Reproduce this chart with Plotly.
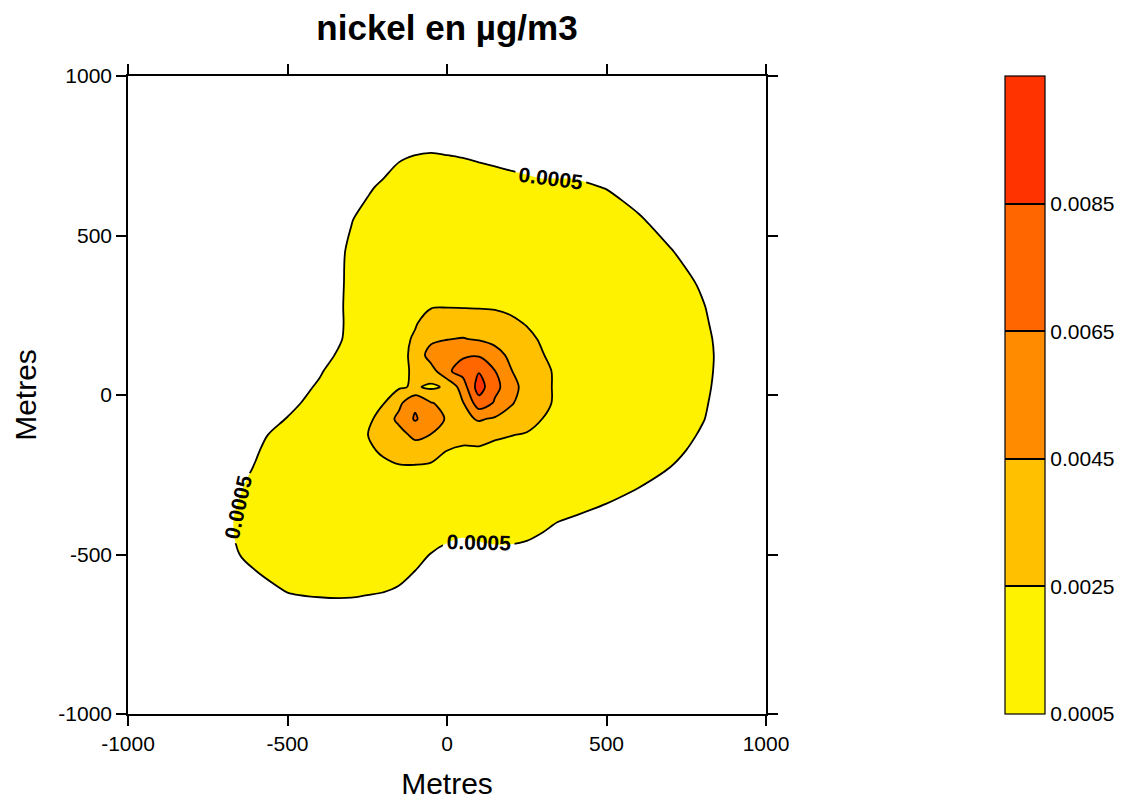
import plotly.graph_objects as go

FONT = "Liberation Sans, Arial, sans-serif"

# Receptor grid in metres (50 m spacing around the source, 100 m further out)
x_m = [-800, -700, -600, -500, -400, -300, -250, -200, -150, -100, -50, 0, 50,
       100, 150, 200, 250, 300, 350, 400, 500, 600, 700, 800, 900]
y_m = [-700, -600, -500, -400, -300, -225, -175, -125, -75, -25, 25, 75, 125,
       175, 225, 275, 350, 450, 550, 650, 750, 850]

# Modelled nickel concentration in units of 1e-4 ug/m3, one row per y_m value
conc_e4 = [
    [0, 0, 0, 0.8, 1.9, 1.9, 1.5, 1.0, 0, 0, 0, 0, 0, 0, 0, 0, 0, 0, 0, 0, 0, 0, 0, 0, 0],
    [0, 0, 2.8, 6.0, 6.6, 6.7, 6.3, 5.9, 4.9, 2.4, 0, 0, 0, 0, 0, 0, 0, 0, 0, 0, 0, 0, 0, 0, 0],
    [0, 2.8, 7.2, 9.6, 10.7, 11.0, 11.0, 10.9, 9.9, 7.7, 4.7, 2.8, 2.0, 2.7, 3.2, 3.2, 2.7, 1.4, 0, 0, 0, 0, 0, 0, 0],
    [0, 3.7, 8.0, 11.6, 13.8, 15.1, 15.6, 15.7, 15.3, 13.8, 11.5, 8.9, 7.7, 8.5, 8.9, 8.8, 8.1, 6.6, 4.8, 3.8, 1.9, 0, 0, 0, 0],
    [0, 2.1, 7.2, 11.4, 15.6, 18.9, 19.6, 20.5, 20.5, 19.8, 18.3, 16.8, 14.6, 15.1, 14.9, 14.7, 13.9, 12.3, 10.7, 9.5, 7.1, 4.6, 1.3, 0, 0],
    [0, 0.4, 5.4, 10.0, 14.5, 18.0, 20.0, 20.6, 23.6, 23.6, 22.4, 20.4, 18.0, 18.0, 17.5, 17.5, 18.5, 16.8, 15.1, 13.7, 10.7, 8.1, 5.05, 0, 0],
    [0, 0, 4.3, 9.8, 15.2, 18.0, 21.4, 27.7, 32.7, 34.7, 32.5, 24.8, 22.0, 22.0, 20.0, 19.5, 19.5, 19.0, 17.9, 16.1, 12.9, 10.1, 7.1, 2.75, 0],
    [0, 0, 2.75, 8.6, 15.2, 20.0, 24.5, 35.3, 38.0, 50.0, 44.5, 38.4, 31.1, 32.5, 27.7, 25.5, 23.6, 20.0, 19.0, 18.7, 14.8, 11.9, 8.4, 4.25, 0],
    [0, 0, 0.25, 5.4, 12.6, 18.0, 20.0, 33.4, 50.0, 67.0, 54.0, 43.2, 40.0, 47.0, 42.6, 37.7, 32.1, 24.8, 19.8, 18.0, 16.6, 13.4, 9.4, 5.4, 0.5],
    [0, 0, 0, 2.0, 9.2, 16.8, 19.5, 24.0, 40.6, 62.0, 46.0, 40.0, 44.0, 76.0, 63.3, 46.8, 37.4, 28.9, 21.8, 19.5, 17.8, 13.9, 10.0, 5.9, 1.2],
    [0, 0, 0, 0.8, 6.1, 12.7, 18.0, 20.0, 23.0, 27.0, 22.0, 27.4, 55.0, 95.0, 68.7, 58.0, 32.0, 27.0, 23.5, 20.0, 18.2, 14.2, 10.3, 6.3, 1.7],
    [0, 0, 0, 0, 4.1, 11.1, 14.8, 17.0, 20.0, 28.0, 36.0, 62.0, 72.0, 83.5, 65.5, 46.0, 35.0, 28.9, 21.8, 19.5, 18.2, 14.3, 10.5, 6.5, 2.1],
    [0, 0, 0, 0, 1.0, 9.5, 13.8, 17.0, 20.0, 29.0, 55.0, 58.4, 63.0, 63.1, 51.5, 41.3, 33.9, 25.7, 19.0, 19.0, 17.8, 14.0, 10.3, 6.6, 2.2],
    [0, 0, 0, 0, 0, 7.0, 12.4, 16.5, 20.0, 27.0, 40.2, 44.5, 46.0, 43.4, 40.3, 35.7, 29.2, 22.8, 20.0, 20.0, 17.6, 13.9, 10.2, 6.4, 2.0],
    [0, 0, 0, 0, 0, 6.6, 11.7, 16.1, 19.5, 23.7, 31.8, 34.9, 34.9, 33.5, 31.8, 28.2, 24.0, 21.0, 20.0, 19.5, 16.7, 13.3, 9.7, 6.0, 1.3],
    [0, 0, 0, 0, 0, 6.7, 10.9, 14.9, 18.5, 21.0, 24.4, 24.8, 24.5, 24.2, 23.7, 21.8, 19.0, 20.0, 19.5, 19.5, 16.3, 12.8, 9.2, 5.5, 0.6],
    [0, 0, 0, 0, 0, 6.5, 10.1, 13.5, 16.4, 18.4, 20.4, 21.1, 21.4, 21.5, 21.3, 21.1, 19.7, 19.1, 17.9, 17.0, 14.7, 11.6, 8.1, 4.2, 0],
    [0, 0, 0, 0, 0, 6.2, 9.1, 11.7, 13.8, 15.3, 17.0, 17.6, 17.4, 17.1, 16.9, 16.2, 15.3, 14.5, 13.9, 13.3, 11.6, 8.9, 5.5, 0.8, 0],
    [0, 0, 0, 0, 0, 4.7, 7.2, 9.4, 11.3, 12.7, 13.5, 13.4, 13.2, 12.8, 12.5, 11.8, 11.1, 10.5, 10.2, 10.0, 8.5, 5.9, 1.4, 0, 0],
    [0, 0, 0, 0, 0, 1.5, 4.0, 6.3, 8.2, 9.1, 9.5, 9.3, 9.0, 8.5, 8.0, 7.5, 6.9, 6.3, 6.3, 6.2, 4.8, 1.2, 0, 0, 0],
    [0, 0, 0, 0, 0, 0, 0, 1.6, 4.2, 5.1, 5.5, 5.1, 4.7, 4.1, 3.5, 2.8, 2.2, 1.7, 1.7, 1.7, 0, 0, 0, 0, 0],
    [0] * 25,
]
conc = [[v * 1e-4 for v in row] for row in conc_e4]

# Contour levels and the colour of each band above a level
levels = [0.0005, 0.0025, 0.0045, 0.0065, 0.0085]
level_step = 0.002
scale_top = 0.0105
band_colors = ["#FFF200", "#FFC000", "#FF8C00", "#FF6600", "#FF3300"]
tick_text = ["0.0005", "0.0025", "0.0045", "0.0065", "0.0085"]

axis_ticks = [-1000, -500, 0, 500, 1000]
axis_text = ["-1000", "-500", "0", "500", "1000"]

SMOOTH = 0.9
LINE_W = 1.8

# Filled bands: region below the first level stays white
fill_scale = [[0.0, "white"], [0.1, "white"]]
for i, c in enumerate(band_colors):
    lo, hi = 0.1 + 0.2 * i, min(0.1 + 0.2 * (i + 1), 1.0)
    fill_scale += [[lo, c], [hi, c]]

# Stepped scale for the legend bar (0.0005 .. 0.0105)
bar_scale = []
for i, c in enumerate(band_colors):
    bar_scale += [[0.2 * i, c], [0.2 * (i + 1), c]]

fig = go.Figure()

fig.add_trace(go.Contour(
    x=x_m, y=y_m, z=conc,
    autocontour=False,
    contours=dict(start=levels[0], end=levels[-1], size=level_step,
                  coloring="fill", showlines=False),
    colorscale=fill_scale,
    line=dict(width=0, smoothing=SMOOTH),
    showscale=False, hoverinfo="skip",
))

# Inner contour lines (unlabelled)
fig.add_trace(go.Contour(
    x=x_m, y=y_m, z=conc,
    autocontour=False,
    contours=dict(start=levels[1], end=levels[-1], size=level_step,
                  coloring="none", showlines=True),
    line=dict(color="black", width=LINE_W, smoothing=SMOOTH),
    showscale=False, hoverinfo="skip",
))

# Outer 0.0005 contour with labels; the extra (empty) levels above the data
# range only tighten plotly's spacing between labels on that one line
fig.add_trace(go.Contour(
    x=x_m, y=y_m, z=conc,
    autocontour=False,
    contours=dict(start=levels[0], end=levels[0] + 24 * 0.01, size=0.01,
                  coloring="none", showlines=True, showlabels=True,
                  labelformat=".4f",
                  labelfont=dict(family=FONT, size=21, color="black", weight="bold")),
    line=dict(color="black", width=LINE_W, smoothing=SMOOTH),
    showscale=False, hoverinfo="skip",
))

# Legend bar: stepped colours, separators drawn as full-width inside ticks
fig.add_trace(go.Heatmap(
    x=x_m, y=y_m, z=conc,
    zmin=levels[0], zmax=scale_top, colorscale=bar_scale,
    opacity=0, hoverinfo="skip", showscale=True,
    colorbar=dict(
        thickness=40, thicknessmode="pixels",
        len=1, lenmode="fraction",
        x=(1005 - 128) / 638, xref="paper", xanchor="left", xpad=0,
        y=1, yref="paper", yanchor="top", ypad=0,
        outlinewidth=1.2, outlinecolor="black",
        tickvals=levels, ticktext=tick_text,
        ticks="inside", ticklen=40, tickwidth=1.5, tickcolor="black",
        tickfont=dict(family=FONT, size=21, color="black"),
    ),
))

axis_common = dict(
    range=[-1000, 1000], tickvals=axis_ticks, ticktext=axis_text,
    ticks="outside", ticklen=10, tickwidth=1.5, tickcolor="black",
    showline=True, linecolor="black", linewidth=1.5, mirror="ticks",
    showgrid=False, zeroline=False,
    tickfont=dict(family=FONT, size=21, color="black"),
)

fig.update_layout(
    width=1123, height=800,
    margin=dict(l=128, r=357, t=76, b=86, pad=0, autoexpand=False),
    paper_bgcolor="white", plot_bgcolor="white",
    showlegend=False,
    font=dict(family=FONT, color="black"),
    title=dict(text="<b>nickel en µg/m3</b>", x=0.5, xref="paper",
               y=1 - 28 / 800, yref="container", yanchor="middle",
               font=dict(family=FONT, size=35, color="black")),
    xaxis=dict(axis_common, title=dict(text="Metres", standoff=21,
                                       font=dict(family=FONT, size=30, color="black"))),
    yaxis=dict(axis_common, title=dict(text="Metres", standoff=13,
                                       font=dict(family=FONT, size=30, color="black"))),
)

fig.write_html("out.html")
